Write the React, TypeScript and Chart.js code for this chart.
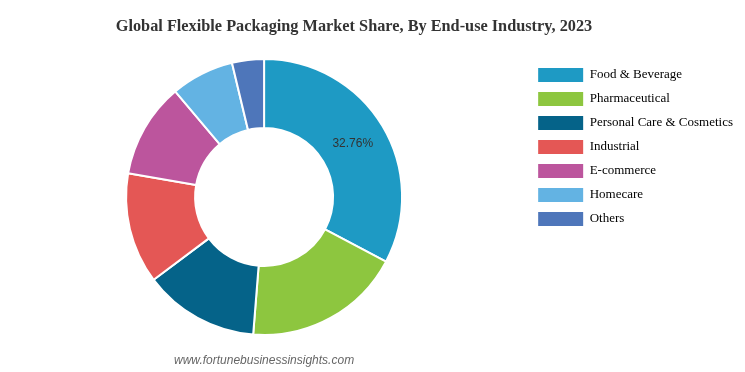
import React, { useEffect, useRef } from "react";
import { Chart, registerables } from "chart.js";

Chart.register(...registerables);

const TITLE = "Global Flexible Packaging Market Share, By End-use Industry, 2023";
const SOURCE = "www.fortunebusinessinsights.com";

const categories = [
  "Food & Beverage",
  "Pharmaceutical",
  "Personal Care & Cosmetics",
  "Industrial",
  "E-commerce",
  "Homecare",
  "Others",
];
const shares = [32.76, 18.5, 13.5, 13.0, 11.1, 7.4, 3.74];
const shownLabels = ["32.76%", "", "", "", "", "", ""];
const colors = ["#1E9AC4", "#8DC63F", "#056389", "#E45755", "#BC559D", "#63B3E3", "#4E76BA"];

const extrasPlugin = {
  id: "extras",
  afterDraw(chart: any) {
    const { ctx, chartArea } = chart;
    ctx.save();
    // title
    ctx.fillStyle = "#333333";
    ctx.font = "bold 16.3px 'Liberation Serif', 'Times New Roman', serif";
    ctx.textAlign = "center";
    ctx.textBaseline = "middle";
    ctx.fillText(TITLE, 354, 27);
    // source
    ctx.fillStyle = "#666666";
    ctx.font = "italic 12px 'Liberation Sans', Arial, sans-serif";
    ctx.fillText(SOURCE, (chartArea.left + chartArea.right) / 2, 361);
    // data labels
    const meta = chart.getDatasetMeta(0);
    ctx.fillStyle = "#333333";
    ctx.font = "12px 'Liberation Sans', Arial, sans-serif";
    meta.data.forEach((el: any, i: number) => {
      const t = shownLabels[i];
      if (!t) return;
      const p = el.tooltipPosition();
      ctx.fillText(t, p.x, p.y);
    });
    ctx.restore();
  },
};

export default function App() {
  const ref = useRef<HTMLCanvasElement | null>(null);
  useEffect(() => {
    if (!ref.current) return;
    const chart = new Chart(ref.current, {
      type: "doughnut",
      data: {
        labels: categories,
        datasets: [
          {
            data: shares,
            backgroundColor: colors,
            borderColor: "#ffffff",
            borderWidth: 2,
          },
        ],
      },
      options: {
        animation: false,
        responsive: true,
        maintainAspectRatio: false,
        cutout: "50%",
        layout: { padding: { top: 58, bottom: 36, left: 0, right: 2 } },
        plugins: {
          title: { display: false },
          tooltip: { enabled: false },
          legend: {
            position: "right",
            align: "start",
            labels: {
              boxWidth: 45,
              boxHeight: 14,
              padding: 10,
              color: "#333333",
              font: { size: 13, family: "'Liberation Serif', 'Times New Roman', serif" },
              generateLabels: () =>
                categories.map((name, i) => ({
                  text: name,
                  fillStyle: colors[i],
                  strokeStyle: colors[i],
                  lineWidth: 0,
                  hidden: false,
                  index: i,
                })),
            },
          },
        },
      },
      plugins: [extrasPlugin],
    });
    return () => chart.destroy();
  }, []);
  return (
    <div style={{ position: "absolute", left: 0, top: 0, width: 745, height: 372, background: "#fff" }}>
      <canvas ref={ref} />
    </div>
  );
}
